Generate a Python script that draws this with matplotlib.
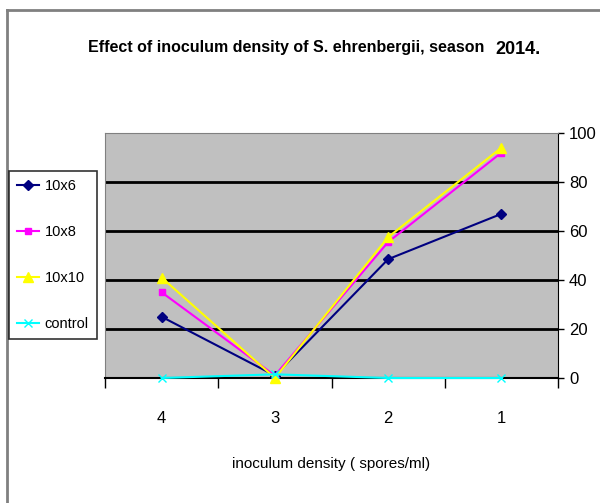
import matplotlib
matplotlib.use('Agg')
from matplotlib import pyplot as plt
from matplotlib.lines import Line2D

densities = ['4', '3', '2', '1']
s_10x6 = [25, 1, 48.5, 67]
s_10x8 = [35, 1, 55.5, 92]
s_10x10 = [41, 0, 57.5, 94]
control = [0, 1.5, 0, 0]
series_names = ['10x6', '10x8', '10x10', 'control']

font = 'Liberation Sans'

fig = plt.figure(figsize=(6, 5.03), dpi=100)
ax = fig.add_axes([0.175, 0.2485, 0.755, 0.487])
ax.set_facecolor('#c0c0c0')

x = range(len(densities))
styles = [('#000080', 'D', 5), ('#ff00ff', 's', 5), ('#ffff00', '^', 7), ('#00ffff', 'x', 6)]
for vals, name, (c, m, ms) in zip([s_10x6, s_10x8, s_10x10, control], series_names, styles):
    ax.plot(x, vals, color=c, marker=m, markersize=ms, linewidth=1.5,
            markeredgecolor=c, label=name, clip_on=False, zorder=3)

ax.set_xlim(-0.5, 3.5)
ax.set_ylim(0, 100)
ax.set_yticks([0, 20, 40, 60, 80, 100])
ax.yaxis.tick_right()
ax.set_xticks([-0.5, 0.5, 1.5, 2.5, 3.5])
ax.set_xticklabels([])
ax.set_xticks(list(x), minor=True)
ax.set_xticklabels(densities, minor=True)
ax.tick_params(axis='x', which='major', direction='out', length=7, width=1, color='black')
ax.tick_params(axis='x', which='minor', length=0, pad=24, labelsize=12)
ax.tick_params(axis='y', direction='out', length=4, width=1, pad=4, labelsize=12)
for lab in ax.get_xticklabels(minor=True) + ax.get_yticklabels():
    lab.set_fontfamily(font)

for v in [20, 40, 60, 80]:
    ax.axhline(v, color='black', linewidth=2, zorder=1)

ax.spines['left'].set_color('#808080')
ax.spines['top'].set_color('#808080')
ax.spines['right'].set_color('black')
ax.spines['bottom'].set_color('black')
ax.spines['bottom'].set_linewidth(1.5)

ax.set_xlabel('inoculum density ( spores/ml)', fontsize=11, fontfamily=font, labelpad=22)

title = fig.text(0.147, 0.905, 'Effect of inoculum density of S. ehrenbergii, season',
                 fontsize=11.5, fontweight='bold', fontfamily=font, ha='left', va='center')
ax.annotate('2014.', xy=(1, 0.5), xycoords=title, xytext=(8, -1), textcoords='offset points',
            fontsize=13, fontweight='bold', fontfamily=font, ha='left', va='center',
            annotation_clip=False)

leg = fig.legend(loc='upper left', bbox_to_anchor=(0.015, 0.66),
                 frameon=True, fancybox=False, edgecolor='black', handlelength=1.5,
                 handletextpad=0.4, labelspacing=2.2, borderpad=0.55, borderaxespad=0,
                 prop={'family': font, 'size': 10.5})
leg.get_frame().set_linewidth(1.2)

# outer chart frame (left and top)
fig.add_artist(Line2D([0.011, 0.011], [0, 0.98], color='#808080', linewidth=2))
fig.add_artist(Line2D([0.011, 1.0], [0.98, 0.98], color='#808080', linewidth=2))

fig.savefig('out.png', dpi=100)
